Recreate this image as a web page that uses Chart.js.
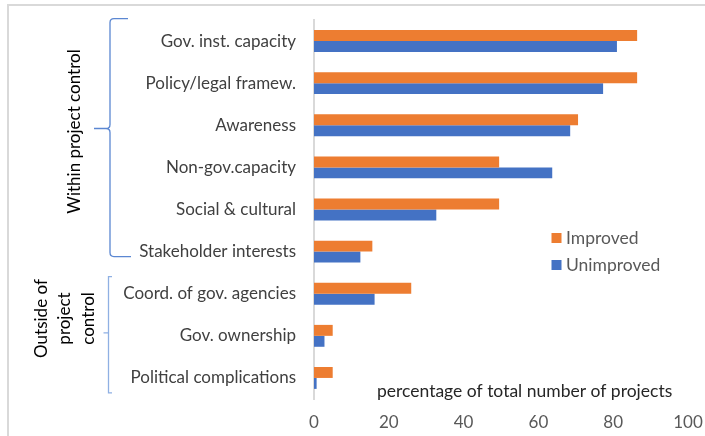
<!DOCTYPE html>
<html>
<head>
<meta charset="utf-8">
<script src="https://cdn.jsdelivr.net/npm/chart.js@4/dist/chart.umd.min.js"></script>
<style>
  html, body { margin: 0; padding: 0; background: #ffffff; }
  #wrap { position: relative; width: 705px; height: 436px; }
  canvas { display: block; }
</style>
</head>
<body>
<div id="wrap"><canvas id="chart" width="705" height="436"></canvas></div>
<script>
// Barriers, listed from top to bottom
const categories = [
  'Gov. inst. capacity',
  'Policy/legal framew.',
  'Awareness',
  'Non-gov.capacity',
  'Social & cultural',
  'Stakeholder interests',
  'Coord. of gov. agencies',
  'Gov. ownership',
  'Political complications'
];

// Percentage of total number of projects
const improved   = [86.4, 86.4, 70.6, 49.5, 49.5, 15.6, 26.0, 5.0, 5.0];
const unimproved = [81.0, 77.3, 68.5, 63.7, 32.7, 12.4, 16.2, 2.8, 0.7];

const seriesNames = ['Improved', 'Unimproved'];
const xTicks = [0, 20, 40, 60, 80, 100];

const axisTitle = 'percentage of total number of projects';
const groupWithin = ['Within project control'];
const groupOutside = ['Outside of', 'project', 'control'];

const ORANGE = '#ED7D31';
const BLUE = '#4472C4';
const FONT = 'Lato, "Open Sans", sans-serif';

// Frame, brackets, group labels, axis title and legend drawn on the canvas
const decorations = {
  id: 'decorations',
  afterDraw(chart) {
    const ctx = chart.ctx;
    const y = chart.scales.y;
    ctx.save();

    // light frame along top and left
    ctx.strokeStyle = '#d9d9d9';
    ctx.lineWidth = 2;
    ctx.beginPath();
    ctx.moveTo(8, 436);
    ctx.lineTo(8, 5);
    ctx.lineTo(705, 5);
    ctx.stroke();

    // curly brace for the first group
    const bTop = y.getPixelForTick(0) - 22.5;
    const bBot = y.getPixelForTick(5) + 5;
    const bMid = 128.5;
    const bx = 110, tipX = 94, r = 4;
    ctx.strokeStyle = '#5b87d2';
    ctx.lineWidth = 1.3;
    ctx.beginPath();
    ctx.moveTo(128, bTop);
    ctx.lineTo(bx + r, bTop);
    ctx.quadraticCurveTo(bx, bTop, bx, bTop + r);
    ctx.lineTo(bx, bMid - r);
    ctx.quadraticCurveTo(bx, bMid, bx - 4, bMid);
    ctx.lineTo(tipX, bMid);
    ctx.moveTo(bx - 4, bMid);
    ctx.quadraticCurveTo(bx, bMid, bx, bMid + r);
    ctx.lineTo(bx, bBot - r);
    ctx.quadraticCurveTo(bx, bBot, bx + r, bBot);
    ctx.lineTo(131, bBot);
    ctx.stroke();

    // square bracket for the second group
    const sTop = y.getPixelForTick(6) - 17;
    const sBot = y.getPixelForTick(8) + 15;
    const sMid = (sTop + sBot) / 2 - 2;
    ctx.strokeStyle = '#8fb0e3';
    ctx.lineWidth = 1.3;
    ctx.beginPath();
    ctx.moveTo(112, sTop);
    ctx.lineTo(108.5, sTop);
    ctx.lineTo(108.5, sBot);
    ctx.lineTo(112, sBot);
    ctx.moveTo(108.5, sMid);
    ctx.lineTo(103.5, sMid);
    ctx.stroke();

    // rotated group labels
    ctx.fillStyle = '#000000';
    ctx.font = '17px ' + FONT;
    ctx.textAlign = 'center';
    ctx.textBaseline = 'middle';
    ctx.save();
    ctx.translate(75, 131.5);
    ctx.rotate(-Math.PI / 2);
    ctx.fillText(groupWithin[0], 0, 0);
    ctx.restore();

    ctx.save();
    ctx.translate(65, 318.5);
    ctx.rotate(-Math.PI / 2);
    groupOutside.forEach((line, i) => {
      ctx.fillText(line, 0, (i - 1) * 23.5);
    });
    ctx.restore();

    // axis title inside the plot area
    ctx.fillStyle = '#262626';
    ctx.font = '17.5px ' + FONT;
    ctx.textAlign = 'left';
    ctx.fillText(axisTitle, 377, 391);

    // legend
    const colors = [ORANGE, BLUE];
    const legendY = [238, 265];
    ctx.font = '17.5px ' + FONT;
    seriesNames.forEach((name, i) => {
      ctx.fillStyle = colors[i];
      ctx.fillRect(551.5, legendY[i] - 5, 10, 10);
      ctx.fillStyle = '#595959';
      ctx.fillText(name, 566, legendY[i]);
    });

    ctx.restore();
  }
};

new Chart(document.getElementById('chart'), {
  type: 'bar',
  data: {
    labels: categories,
    datasets: [
      { label: seriesNames[0], data: improved, backgroundColor: ORANGE,
        categoryPercentage: 0.52, barPercentage: 1.0 },
      { label: seriesNames[1], data: unimproved, backgroundColor: BLUE,
        categoryPercentage: 0.52, barPercentage: 1.0 }
    ]
  },
  options: {
    indexAxis: 'y',
    responsive: false,
    animation: false,
    devicePixelRatio: 1,
    layout: { padding: { top: 20, right: 17, bottom: 0, left: 0 } },
    plugins: {
      legend: { display: false },
      tooltip: { enabled: false }
    },
    scales: {
      y: {
        type: 'category',
        grid: { display: false, drawTicks: false },
        border: { display: true, color: '#d9d9d9', width: 2 },
        ticks: {
          color: '#404040',
          font: { family: FONT, size: 17 },
          padding: 18,
          autoSkip: false
        },
        afterFit(scale) {
          scale.width = 314;
          scale.paddingTop = 0;
          scale.paddingBottom = 0;
        }
      },
      x: {
        min: 0,
        max: 100,
        afterBuildTicks(scale) { scale.ticks = xTicks.map(v => ({ value: v })); },
        grid: { display: false, drawTicks: false },
        border: { display: false },
        ticks: {
          color: '#595959',
          font: { family: FONT, size: 17 },
          padding: 13,
          maxRotation: 0
        },
        afterFit(scale) {
          scale.height = 37;
          scale.paddingLeft = 0;
          scale.paddingRight = 0;
        }
      }
    }
  },
  plugins: [decorations]
});
</script>
</body>
</html>
